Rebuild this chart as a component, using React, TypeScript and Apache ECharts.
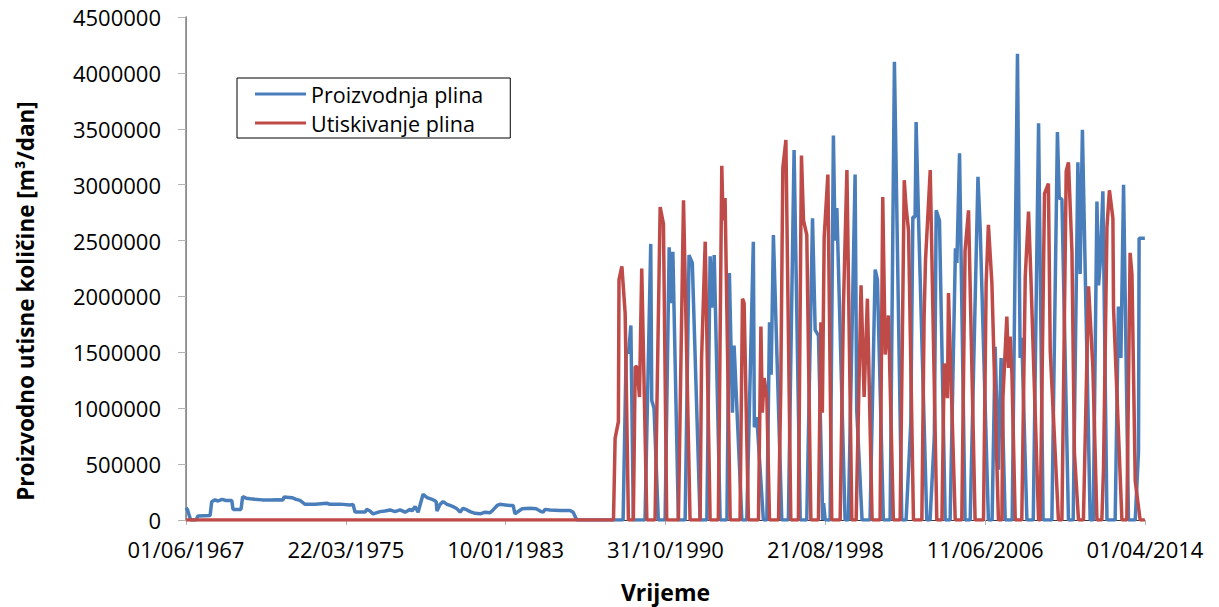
import React, { useEffect, useRef } from "react";
import * as echarts from "echarts";

// Time reference: 01/06/1967 expressed as a decimal year
const START_YEAR = 1967.4137;
const TICK_DAYS = 2851;
const MAX_DAYS = 17106;

const xTickLabels = [
  "01/06/1967",
  "22/03/1975",
  "10/01/1983",
  "31/10/1990",
  "21/08/1998",
  "11/06/2006",
  "01/04/2014",
];

const yMax = 4500000;
const yStep = 500000;

// [decimal year, m3/dan]
const productionEarly: [number, number][] = [
  [1967.42, 110000], [1967.49, 90000], [1967.64, 0], [1967.9, 0], [1968.0, 36000],
  [1968.59, 40000], [1968.67, 164000], [1968.83, 180000], [1968.98, 170000], [1969.17, 185000],
  [1969.37, 175000], [1969.65, 175000], [1969.71, 95000], [1970.1, 95000], [1970.18, 209000],
  [1970.35, 195000], [1970.54, 190000], [1970.78, 185000], [1971.13, 180000], [1971.52, 178000],
  [1971.91, 182000], [1972.15, 180000], [1972.2, 205000], [1972.59, 200000], [1972.79, 185000],
  [1972.98, 175000], [1973.23, 140000], [1973.72, 140000], [1974.29, 150000], [1974.45, 140000],
  [1974.94, 142000], [1975.43, 135000], [1975.57, 140000], [1975.67, 71000], [1976.16, 71000],
  [1976.24, 95000], [1976.4, 80000], [1976.55, 55000], [1976.89, 75000], [1977.13, 80000],
  [1977.38, 90000], [1977.62, 75000], [1977.87, 90000], [1978.11, 70000], [1978.36, 95000],
  [1978.45, 80000], [1978.6, 120000], [1978.75, 70000], [1978.84, 130000], [1978.99, 230000],
  [1979.19, 200000], [1979.43, 185000], [1979.63, 165000], [1979.67, 80000], [1979.82, 140000],
  [1979.97, 165000], [1980.16, 140000], [1980.31, 130000], [1980.51, 115000], [1980.65, 100000],
  [1980.8, 70000], [1980.94, 105000], [1981.14, 90000], [1981.29, 75000], [1981.53, 60000],
  [1981.78, 55000], [1982.02, 70000], [1982.26, 65000], [1982.41, 90000], [1982.61, 130000],
  [1982.75, 140000], [1983.0, 135000], [1983.24, 130000], [1983.39, 130000], [1983.48, 55000],
  [1983.58, 70000], [1983.83, 100000], [1984.22, 105000], [1984.51, 100000], [1984.71, 80000],
  [1984.85, 70000], [1984.95, 95000], [1985.19, 90000], [1985.68, 85000], [1986.17, 85000],
  [1986.32, 70000], [1986.5, 0],
];

const productionSeasonal: [number, number][] = [
  [1988.76, 0], [1988.91, 1510000], [1989.03, 1500000], [1989.14, 1740000], [1989.26, 0],
  [1989.83, 0], [1990.11, 2470000], [1990.16, 1070000], [1990.27, 1000000], [1990.48, 0],
  [1990.81, 0], [1991.01, 2440000], [1991.09, 1940000], [1991.19, 2400000], [1991.46, 0],
  [1991.79, 0], [1991.98, 2370000], [1992.14, 2300000], [1992.52, 0],
  [1992.85, 0], [1993.01, 2360000], [1993.09, 1900000], [1993.21, 2370000], [1993.5, 0],
  [1993.83, 0], [1993.95, 2210000], [1994.1, 960000], [1994.18, 1560000], [1994.56, 0],
  [1994.8, 0], [1995.12, 2490000], [1995.17, 830000], [1995.29, 920000], [1995.61, 0],
  [1995.78, 0], [1995.91, 1770000], [1995.99, 1300000], [1996.1, 2550000], [1996.51, 0],
  [1996.83, 0], [1997.11, 3310000], [1997.41, 0],
  [1997.73, 0], [1998.01, 2700000], [1998.14, 1700000], [1998.3, 1650000], [1998.51, 0], [1998.55, 150000], [1998.63, 0],
  [1998.87, 0], [1999.03, 3440000], [1999.11, 2500000], [1999.2, 2790000], [1999.6, 0],
  [1999.76, 0], [2000.09, 3090000], [2000.17, 980000], [2000.43, 0],
  [2000.82, 0], [2001.07, 2240000], [2001.18, 2150000], [2001.47, 0],
  [2001.8, 0], [2002.01, 4100000], [2002.37, 0],
  [2002.58, 0], [2002.81, 870000], [2002.91, 2710000], [2003.02, 2710000], [2003.07, 3560000], [2003.18, 2750000], [2003.59, 0],
  [2003.75, 0], [2003.96, 750000], [2004.05, 2770000], [2004.21, 2680000], [2004.49, 0],
  [2004.73, 0], [2004.99, 2430000], [2005.06, 2300000], [2005.19, 3280000], [2005.46, 0],
  [2005.71, 0], [2006.09, 3070000], [2006.2, 2600000], [2006.6, 0],
  [2006.78, 0], [2006.93, 1550000], [2007.09, 450000], [2007.22, 1450000], [2007.42, 0],
  [2007.76, 0], [2008.02, 4170000], [2008.15, 1450000], [2008.23, 1630000], [2008.48, 0],
  [2008.79, 0], [2009.05, 3550000], [2009.27, 0],
  [2009.7, 0], [2009.97, 3470000], [2010.06, 2880000], [2010.19, 2870000], [2010.51, 0],
  [2010.74, 0], [2010.97, 3200000], [2011.08, 2200000], [2011.19, 3490000], [2011.57, 0],
  [2011.72, 0], [2011.9, 2850000], [2011.98, 2100000], [2012.06, 2300000], [2012.19, 2940000], [2012.39, 0],
  [2012.79, 0], [2012.95, 1910000], [2013.07, 1450000], [2013.2, 3000000], [2013.44, 0],
  [2013.77, 0], [2013.93, 610000], [2013.96, 2520000], [2014.24, 2520000],
];

const injection: [number, number][] = [
  [1967.42, 0], [1988.29, 0], [1988.37, 730000], [1988.53, 880000], [1988.56, 2150000], [1988.7, 2270000], [1988.86, 1850000], [1989.02, 0],
  [1989.26, 0], [1989.35, 1370000], [1989.44, 1370000], [1989.56, 1100000], [1989.67, 2250000], [1989.92, 0],
  [1990.32, 0], [1990.57, 2800000], [1990.73, 2650000], [1990.89, 0],
  [1991.46, 0], [1991.71, 2860000], [1992.03, 0],
  [1992.52, 0], [1992.59, 1430000], [1992.77, 2490000], [1993.01, 0],
  [1993.41, 0], [1993.58, 3170000], [1993.64, 2680000], [1993.74, 2880000], [1993.99, 0],
  [1994.47, 0], [1994.59, 1980000], [1994.67, 1940000], [1994.88, 0],
  [1995.37, 0], [1995.49, 1730000], [1995.56, 960000], [1995.65, 1270000], [1995.78, 1100000], [1995.91, 0],
  [1996.35, 0], [1996.46, 1180000], [1996.56, 3150000], [1996.71, 3400000], [1996.95, 0],
  [1997.32, 0], [1997.47, 3260000], [1997.57, 2680000], [1997.73, 2550000], [1997.93, 0],
  [1998.3, 0], [1998.42, 1770000], [1998.49, 960000], [1998.58, 2530000], [1998.76, 3090000], [1998.95, 0],
  [1999.36, 0], [1999.52, 1910000], [1999.69, 3130000], [1999.93, 0],
  [2000.14, 0], [2000.38, 2100000], [2000.53, 1100000], [2000.69, 1980000], [2000.92, 0],
  [2001.31, 0], [2001.44, 2890000], [2001.56, 1480000], [2001.72, 1830000], [2001.96, 0],
  [2002.29, 0], [2002.49, 3040000], [2002.58, 2800000], [2002.7, 2590000], [2002.94, 0],
  [2003.35, 0], [2003.46, 1820000], [2003.53, 2330000], [2003.76, 3130000], [2004.08, 0],
  [2004.33, 0], [2004.44, 1400000], [2004.6, 1090000], [2004.65, 2030000], [2004.98, 0],
  [2005.3, 0], [2005.46, 2410000], [2005.63, 2770000], [2005.95, 0],
  [2006.36, 0], [2006.49, 2120000], [2006.6, 2640000], [2006.77, 2120000], [2007.09, 0],
  [2007.26, 0], [2007.31, 1100000], [2007.5, 1820000], [2007.58, 1360000], [2007.66, 1640000], [2007.75, 1300000], [2007.91, 0],
  [2008.23, 0], [2008.4, 2180000], [2008.56, 2760000], [2008.67, 2200000], [2009.05, 0],
  [2009.13, 0], [2009.34, 2920000], [2009.53, 3010000], [2009.62, 1510000], [2010.02, 0],
  [2010.19, 0], [2010.4, 3120000], [2010.51, 3200000], [2010.68, 2400000], [2010.8, 600000], [2011.0, 0],
  [2011.24, 0], [2011.49, 2090000], [2011.7, 1370000], [2011.9, 0],
  [2012.14, 0], [2012.22, 450000], [2012.39, 2620000], [2012.51, 2950000], [2012.68, 2700000], [2012.71, 1900000], [2013.12, 0],
  [2013.36, 0], [2013.52, 2390000], [2013.61, 2200000], [2013.77, 350000], [2014.01, 0], [2014.24, 0],
];

const seriesNames = ["Proizvodnja plina", "Utiskivanje plina"];
const seriesColors = ["#4a7ebb", "#be4b48"];
const yTitle = "Proizvodno utisne količine [m³/dan]";

const FONT = "'Open Sans', sans-serif";

const toDays = (pts: [number, number][]) =>
  pts.map(([yr, v]) => [(yr - START_YEAR) * 365.25, v]);

export default function App() {
  const ref = useRef<HTMLDivElement>(null);

  useEffect(() => {
    if (!ref.current) return;
    const chart = echarts.init(ref.current, undefined, { renderer: "svg" });
    const prodData = toDays([...productionEarly, ...productionSeasonal]);
    const injData = toDays(injection);

    chart.setOption({
      animation: false,
      backgroundColor: "#ffffff",
      grid: {
        left: 186,
        right: 74,
        top: 17,
        bottom: 87,
        containLabel: false,
        outerBoundsMode: "none",
      },
      legend: {
        left: 237,
        top: 78,
        orient: "vertical",
        backgroundColor: "#ffffff",
        borderColor: "#000000",
        borderWidth: 1,
        padding: [5, 27, 4, 18],
        icon: "rect",
        itemWidth: 51,
        itemHeight: 3,
        itemGap: 7,
        textStyle: { fontFamily: FONT, fontSize: 21.5, color: "#000000", lineHeight: 21 },
        data: seriesNames,
      },
      graphic: [
        {
          type: "text",
          x: 25,
          y: 301,
          rotation: Math.PI / 2,
          style: {
            text: yTitle,
            fontFamily: FONT,
            fontSize: 22.5,
            fontWeight: "bold",
            fill: "#000000",
            align: "center",
            verticalAlign: "middle",
          },
        },
      ],
      xAxis: [
        {
          type: "value",
          min: 0,
          max: MAX_DAYS,
          interval: TICK_DAYS,
          position: "bottom",
          name: "Vrijeme",
          nameLocation: "middle",
          nameGap: 60,
          nameTextStyle: { fontFamily: FONT, fontSize: 23, fontWeight: "bold", color: "#000000" },
          axisLine: { show: true, lineStyle: { color: "#b3b3b3", width: 1 } },
          axisTick: { show: true, length: 5, inside: false, lineStyle: { color: "#b3b3b3" } },
          axisLabel: {
            margin: 18,
            fontFamily: FONT,
            fontSize: 22,
            color: "#000000",
            formatter: (v: number) => xTickLabels[Math.round(v / TICK_DAYS)] ?? "",
          },
          splitLine: { show: false },
        },
        {
          type: "value",
          min: 0,
          max: MAX_DAYS,
          position: "top",
          axisLine: { show: true, lineStyle: { color: "#3a3a3a", width: 1 } },
          axisTick: { show: false },
          axisLabel: { show: false },
          splitLine: { show: false },
        },
      ],
      yAxis: [
        {
          type: "value",
          min: 0,
          max: yMax,
          interval: yStep,
          position: "left",
          axisLine: { show: true, lineStyle: { color: "#b3b3b3", width: 1 } },
          axisTick: { show: true, length: 8, inside: false, lineStyle: { color: "#b3b3b3" } },
          axisLabel: {
            margin: 25,
            fontFamily: FONT,
            fontSize: 22,
            color: "#000000",
            formatter: (v: number) => String(v),
          },
          splitLine: { show: false },
        },
        {
          type: "value",
          min: 0,
          max: yMax,
          position: "right",
          axisLine: { show: true, lineStyle: { color: "#7f7f7f", width: 1.5 } },
          axisTick: { show: false },
          axisLabel: { show: false },
          splitLine: { show: false },
        },
      ],
      series: [
        {
          name: seriesNames[0],
          type: "line",
          xAxisIndex: 0,
          yAxisIndex: 0,
          symbol: "none",
          showSymbol: false,
          color: seriesColors[0],
          lineStyle: { color: seriesColors[0], width: 3.5 },
          data: prodData,
        },
        {
          name: seriesNames[1],
          type: "line",
          xAxisIndex: 0,
          yAxisIndex: 0,
          symbol: "none",
          showSymbol: false,
          color: seriesColors[1],
          lineStyle: { color: seriesColors[1], width: 3.5 },
          data: injData,
        },
      ],
    });

    return () => chart.dispose();
  }, []);

  return (
    <div
      ref={ref}
      style={{ position: "absolute", left: 0, top: 0, width: 1219, height: 607 }}
    />
  );
}
